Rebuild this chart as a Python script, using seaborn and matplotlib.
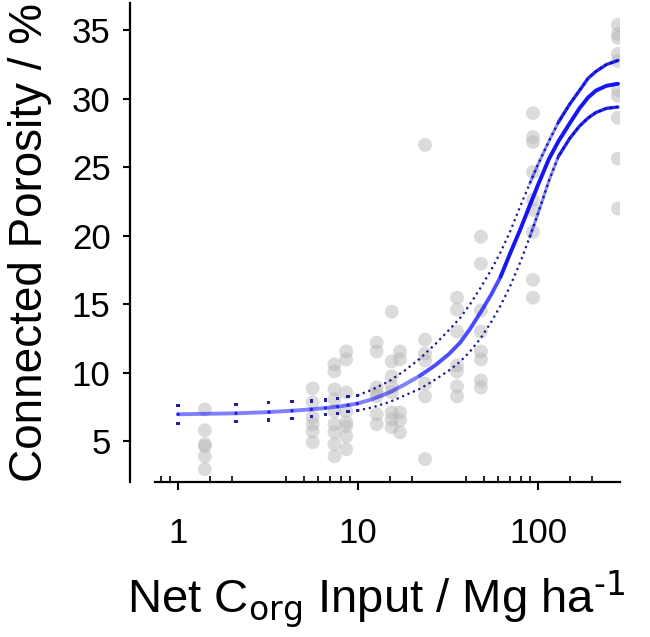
"""
Connected porosity against net organic carbon input, with the sigmoid fit and its confidence band.
"""

# -------------------------------------------------- IMPORTS -------------------------------------------------- #

import pandas as pd
import seaborn as sns
import matplotlib.pyplot as plt
from matplotlib.ticker import FixedLocator, FixedFormatter, NullFormatter

# -------------------------------------------------- GLOBALS -------------------------------------------------- #

sns.set_theme(style="white")
plt.rcParams['font.family'] = ['Liberation Sans', 'DejaVu Sans']
plt.rcParams['mathtext.default'] = 'regular'
plt.rcParams['text.color'] = 'black'
plt.rcParams['axes.labelcolor'] = 'black'

# measured points, grouped by input level (Mg ha-1)
input_levels = [1.41, 5.6, 7.4, 8.6, 12.7, 15.4, 17.1, 23.6, 35.5, 48.2, 93.8, 278]
porosity_by_level = [
    [7.31, 5.78, 4.76, 4.61, 3.88, 2.94],
    [8.84, 7.82, 6.73, 6.22, 5.71, 4.91],
    [10.59, 10.08, 8.77, 8.04, 7.17, 6.22, 5.63, 4.76, 3.88],
    [11.54, 10.96, 8.55, 7.17, 6.36, 6.07, 5.34, 4.39],
    [12.19, 11.54, 8.91, 8.55, 8.26, 6.95, 6.22],
    [14.45, 10.81, 9.72, 8.99, 8.55, 7.09, 6.58, 6.00],
    [11.54, 10.96, 7.09, 6.51, 5.63],
    [26.63, 12.41, 11.39, 10.88, 9.20, 8.26, 3.67],
    [15.47, 14.60, 12.99, 10.52, 10.08, 8.99, 8.26],
    [19.92, 17.95, 14.53, 12.99, 11.54, 10.96, 9.43, 8.91],
    [28.95, 27.20, 26.84, 24.65, 22.61, 21.88, 20.28, 16.78, 15.47],
    [35.40, 34.74, 34.45, 33.28, 32.77, 30.66, 30.22, 28.62, 25.63, 21.99],
]

# fitted curve and confidence band
fit_x = [1.0, 2.1, 3.2, 4.3, 5.5, 6.6, 7.7, 8.8, 9.9, 12, 15, 18, 22, 27, 32, 37, 42, 48,
         55, 62, 70, 80, 90, 100, 115, 130, 150, 170, 190, 210, 240, 278]
fit_mid = [6.95, 7.02, 7.11, 7.21, 7.31, 7.41, 7.51, 7.62, 7.73, 8.05, 8.55, 9.1, 9.75, 10.55, 11.35,
           12.2, 13.2, 14.4, 15.7, 17.0, 18.7, 20.5, 22.2, 23.7, 25.6, 26.9, 28.2, 29.3, 30.1, 30.6,
           30.95, 31.1]
fit_upper = [7.62, 7.67, 7.80, 7.87, 7.92, 7.99, 8.11, 8.24, 8.33, 8.75, 9.4, 10.1, 11.0, 12.1, 13.1,
             14.0, 15.0, 16.2, 17.5, 18.8, 20.3, 22.2, 23.8, 25.2, 26.9, 28.3, 29.6, 30.6, 31.5, 32.0,
             32.5, 32.8]
fit_lower = [6.29, 6.41, 6.53, 6.65, 6.78, 6.92, 7.02, 7.14, 7.22, 7.45, 7.85, 8.3, 8.8, 9.5, 10.15,
             10.8, 11.55, 12.5, 13.7, 14.9, 16.3, 18.1, 19.9, 21.6, 24.0, 25.8, 27.1, 28.0, 28.6, 29.0,
             29.3, 29.4]

y_ticks = [5, 10, 15, 20, 25, 30, 35]
x_ticks = [1, 10, 100]
x_tick_labels = ['1', '10', '100']
x_minor_ticks = [0.8, 0.9, 1.5, 2, 4, 5, 6, 7, 8, 9, 15, 20, 40, 50, 60, 70, 80, 90, 150, 200]

# -------------------------------------------------- MAIN -------------------------------------------------- #

points = pd.DataFrame(
    [(x, y) for x, ys in zip(input_levels, porosity_by_level) for y in ys],
    columns=['input', 'porosity'])
fit = pd.DataFrame({'x': fit_x, 'mid': fit_mid, 'upper': fit_upper, 'lower': fit_lower})
sparse = fit[fit['x'] <= 9.9]
dense = fit[fit['x'] >= 9.9]

fig = plt.figure(figsize=(6.5, 6.37), dpi=100)
ax = fig.add_axes([0.2385, 0.2433, 0.7155, 0.752])

sns.scatterplot(data=points, x='input', y='porosity', color='#b8b8b8', alpha=0.5, s=100,
                edgecolor='none', ax=ax, zorder=1)

# centre line gets darker where the original sampling gets denser
sns.lineplot(data=fit, x='x', y='mid', color='#0000ff', alpha=0.5, lw=2.8, ax=ax, zorder=3)
sns.lineplot(data=fit[fit['x'] >= 20], x='x', y='mid', color='#0000ff', alpha=0.4, lw=2.6, ax=ax, zorder=3)
sns.lineplot(data=fit[fit['x'] >= 60], x='x', y='mid', color='#0000ee', alpha=0.7, lw=2.6, ax=ax, zorder=3)
sns.scatterplot(data=sparse, x='x', y='mid', color='#2020ff', s=6, edgecolor='none', ax=ax, zorder=4)

# confidence band: isolated dots on the left, dotted further right
for col in ['upper', 'lower']:
    sns.scatterplot(data=sparse, x='x', y=col, color='#20209a', s=5, marker='s', edgecolor='none',
                    ax=ax, zorder=4)
    sns.lineplot(data=dense, x='x', y=col, color='#1a1a90', lw=1.6, linestyle=':', ax=ax, zorder=3)
    sns.lineplot(data=fit[fit['x'] >= 90], x='x', y=col, color='#0000dd', lw=2.2, alpha=0.45,
                 ax=ax, zorder=3)
    sns.lineplot(data=fit[fit['x'] >= 130], x='x', y=col, color='#0000dd', lw=2.4, alpha=0.7,
                 ax=ax, zorder=3)

ax.set_xscale('log')
ax.set_xlim(0.745, 286)
ax.set_ylim(2.0, 37.0)

ax.xaxis.set_major_locator(FixedLocator(x_ticks))
ax.xaxis.set_major_formatter(FixedFormatter(x_tick_labels))
ax.xaxis.set_minor_locator(FixedLocator(x_minor_ticks))
ax.xaxis.set_minor_formatter(NullFormatter())
ax.set_yticks(y_ticks)

for side in ['top', 'right']:
    ax.spines[side].set_visible(False)
for side in ['left', 'bottom']:
    ax.spines[side].set_linewidth(1.6)
    ax.spines[side].set_color('black')
ax.spines['left'].set_position(('outward', 18))

ax.tick_params(axis='y', which='major', direction='out', length=5, width=1.5, color='black',
               labelsize=25, labelcolor='black', pad=9, left=True)
ax.tick_params(axis='x', which='major', direction='out', length=6, width=1.5, color='black',
               labelsize=25, labelcolor='black', pad=19, bottom=True)
ax.tick_params(axis='x', which='minor', direction='in', length=4, width=1.2, color='black', bottom=True)

ax.set_xlabel(r'Net C$_{\text{org}}$ Input / Mg ha$^{\text{-1}}$', fontsize=34, labelpad=14)
ax.xaxis.label.set_x(0.475)
ax.set_ylabel('Connected Porosity / %', fontsize=33, labelpad=14)
ax.grid(False)

fig.savefig('out.png', dpi=100)
